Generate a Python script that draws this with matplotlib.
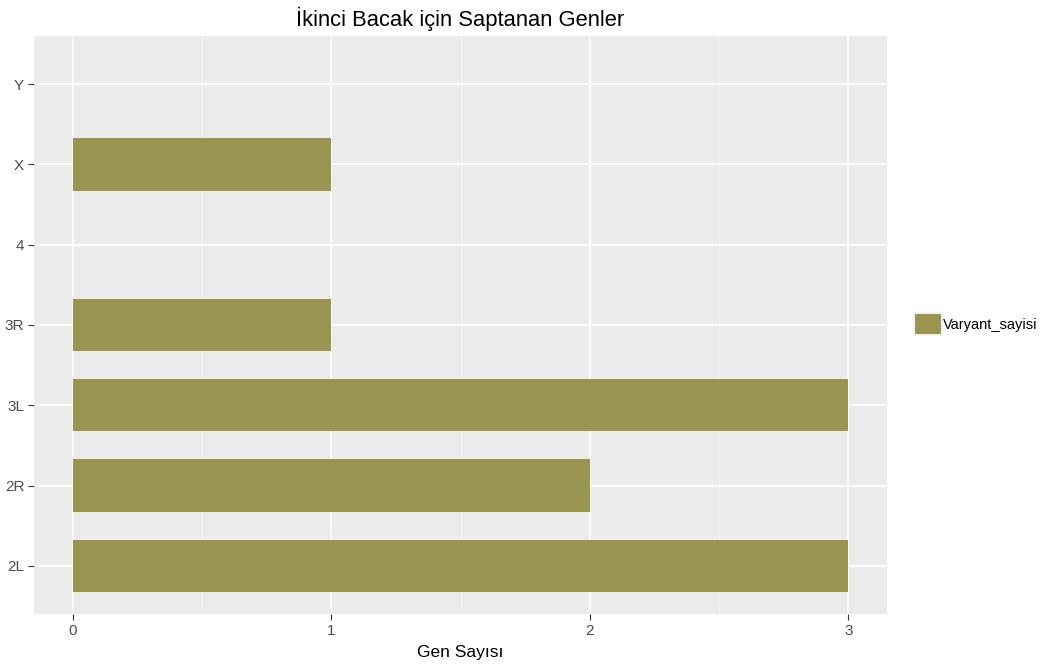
import matplotlib
matplotlib.use("Agg")
import matplotlib.pyplot as plt
from matplotlib.patches import Patch
from matplotlib.ticker import MultipleLocator

plt.rcParams['font.family'] = ['Liberation Sans', 'DejaVu Sans']

categories = ["2L", "2R", "3L", "3R", "4", "X", "Y"]
varyant_sayisi = [3, 2, 3, 1, 0, 1, 0]
x_ticks = [0, 1, 2, 3]

bar_color = "#999450"
panel_bg = "#EBEBEB"

fig = plt.figure(figsize=(10.43, 6.68), dpi=100)
ax = fig.add_axes([34 / 1043, 1 - 614 / 668, (887 - 34) / 1043, (614 - 36) / 668])
ax.set_facecolor(panel_bg)

ypos = list(range(len(categories)))
ax.barh(ypos, varyant_sayisi, height=0.65, color=bar_color, zorder=3,
        label="Varyant_sayisi")

ax.set_xlim(-0.15, 3.15)
ax.set_ylim(-0.6, len(categories) - 1 + 0.6)
ax.set_yticks(ypos)
ax.set_yticklabels(categories)
ax.set_xticks(x_ticks)
ax.xaxis.set_minor_locator(MultipleLocator(0.5))

ax.grid(which="major", color="white", linewidth=1.1, zorder=1)
ax.grid(which="minor", axis="x", color="#F5F5F5", linewidth=0.6, zorder=1)
for s in ax.spines.values():
    s.set_visible(False)

ax.tick_params(which="major", length=4, width=0.8, color="#333333",
               labelcolor="#4D4D4D", labelsize=11, pad=3)
ax.tick_params(which="minor", length=0)

ax.set_title("İkinci Bacak için Saptanan Genler", fontsize=15.8,
             color="black", pad=7)
ax.set_xlabel("Gen Sayısı", fontsize=12.5, color="black", labelpad=5)

handles = [Patch(facecolor=bar_color, edgecolor="#F2F2F2", linewidth=1.5)]
fig.legend(handles, ["Varyant_sayisi"], loc="center left",
           bbox_to_anchor=(901 / 1043, 1 - 324 / 668), frameon=False,
           handlelength=1.9, handleheight=1.9, handletextpad=0.1,
           fontsize=10.5, labelcolor="black")

fig.savefig("out.png", dpi=100, facecolor="white")
